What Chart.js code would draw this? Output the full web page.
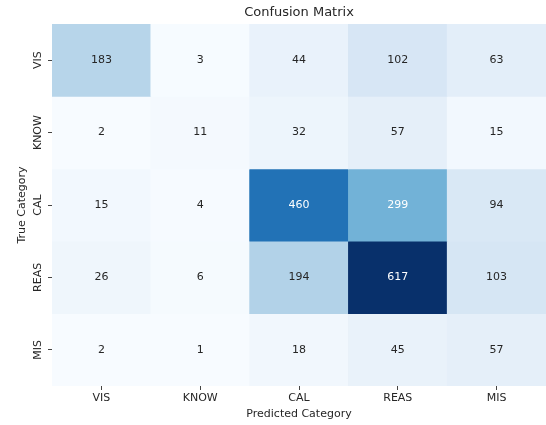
<!DOCTYPE html>
<html>
<head>
<meta charset="utf-8">
<script src="https://cdn.jsdelivr.net/npm/chart.js@4/dist/chart.umd.min.js"></script>
<style>
html,body{margin:0;padding:0;background:#fff;}
#wrap{width:546px;height:425px;}
</style>
</head>
<body>
<div id="wrap"><canvas id="c" width="546" height="425"></canvas></div>
<script>
const predictedLabels = ['VIS', 'KNOW', 'CAL', 'REAS', 'MIS'];
const trueLabels = ['VIS', 'KNOW', 'CAL', 'REAS', 'MIS'];
const rowVIS  = [183, 3, 44, 102, 63];
const rowKNOW = [2, 11, 32, 57, 15];
const rowCAL  = [15, 4, 460, 299, 94];
const rowREAS = [26, 6, 194, 617, 103];
const rowMIS  = [2, 1, 18, 45, 57];
const matrix = [rowVIS, rowKNOW, rowCAL, rowREAS, rowMIS];
const chartTitle = 'Confusion Matrix';

const blues = ['#f7fbff','#deebf7','#c6dbef','#9ecae1','#6baed6','#4292c6','#2171b5','#08519c','#08306b']
  .map(h => [parseInt(h.slice(1,3),16), parseInt(h.slice(3,5),16), parseInt(h.slice(5,7),16)]);
const allVals = matrix.flat();
const vmin = Math.min(...allVals), vmax = Math.max(...allVals);
function cmap(v) {
  let t = (v - vmin) / (vmax - vmin);
  t = Math.max(0, Math.min(1, t));
  const p = t * (blues.length - 1);
  const i = Math.min(blues.length - 2, Math.floor(p));
  const f = p - i;
  return blues[i].map((c, k) => Math.round(c + (blues[i+1][k] - c) * f));
}
function lum(rgb) {
  const l = rgb.map(c => { c /= 255; return c <= 0.03928 ? c / 12.92 : Math.pow((c + 0.055) / 1.055, 2.4); });
  return 0.2126*l[0] + 0.7152*l[1] + 0.0722*l[2];
}

const FONT = "'DejaVu Sans', sans-serif";
const TXT = '#262626';

const datasets = matrix.map((row, r) => ({
  label: trueLabels[r],
  data: row.map(() => [r, r + 1]),
  values: row,
  backgroundColor: row.map(v => { const c = cmap(v); return `rgb(${c[0]},${c[1]},${c[2]})`; }),
  borderWidth: 0,
  borderSkipped: false,
  grouped: false,
  barPercentage: 1.0,
  categoryPercentage: 1.0
}));

const annot = {
  id: 'annot',
  afterDatasetsDraw(chart) {
    const ctx = chart.ctx;
    const ca = chart.chartArea;
    ctx.save();
    ctx.font = "11px " + FONT;
    ctx.textAlign = 'center';
    ctx.textBaseline = 'middle';
    chart.data.datasets.forEach((ds, di) => {
      const meta = chart.getDatasetMeta(di);
      meta.data.forEach((bar, i) => {
        const v = ds.values[i];
        const c = cmap(v);
        ctx.fillStyle = lum(c) > 0.408 ? TXT : '#ffffff';
        const y = (bar.y + bar.base) / 2;
        ctx.fillText(String(v), bar.x, y);
      });
    });
    // rotated y tick labels
    const ys = chart.scales.y;
    ctx.fillStyle = TXT;
    ys.ticks.forEach((t, i) => {
      const py = ys.getPixelForTick(i);
      ctx.save();
      ctx.translate(38, py);
      ctx.rotate(-Math.PI / 2);
      ctx.fillText(trueLabels[Math.floor(t.value)], 0, 0);
      ctx.restore();
    });
    // title centred over the plot area
    ctx.font = "13px " + FONT;
    ctx.fillText(chartTitle, (ca.left + ca.right) / 2, 13);
    ctx.restore();
  }
};

new Chart(document.getElementById('c'), {
  type: 'bar',
  data: { labels: predictedLabels, datasets },
  plugins: [annot],
  options: {
    responsive: false,
    animation: false,
    layout: { padding: { top: 24, left: 0, right: 0, bottom: 0 } },
    plugins: {
      legend: { display: false },
      tooltip: { enabled: false },
      title: { display: false }
    },
    scales: {
      x: {
        type: 'category',
        offset: true,
        afterFit(s) { s.height = 39; },
        grid: { display: true, drawOnChartArea: false, drawTicks: true, tickLength: 4, offset: false, color: '#444', lineWidth: 1 },
        border: { display: false },
        ticks: { color: TXT, font: { family: FONT, size: 11 }, padding: 2, maxRotation: 0, minRotation: 0 },
        title: { display: true, text: 'Predicted Category', color: TXT, font: { family: FONT, size: 11, lineHeight: 1.2 }, padding: { top: 0, bottom: 4.4 } }
      },
      y: {
        type: 'linear',
        min: 0, max: 5,
        reverse: true,
        afterFit(s) { s.width = 52; },
        afterBuildTicks(s) { s.ticks = [0.5, 1.5, 2.5, 3.5, 4.5].map(v => ({ value: v })); },
        grid: { display: true, drawOnChartArea: false, drawTicks: true, tickLength: 4, color: '#444', lineWidth: 1 },
        border: { display: false },
        ticks: { display: false },
        title: { display: true, text: 'True Category', color: TXT, font: { family: FONT, size: 11, lineHeight: 1.2 }, padding: { top: 15.9, bottom: 0 } }
      }
    }
  }
});
</script>
</body>
</html>
